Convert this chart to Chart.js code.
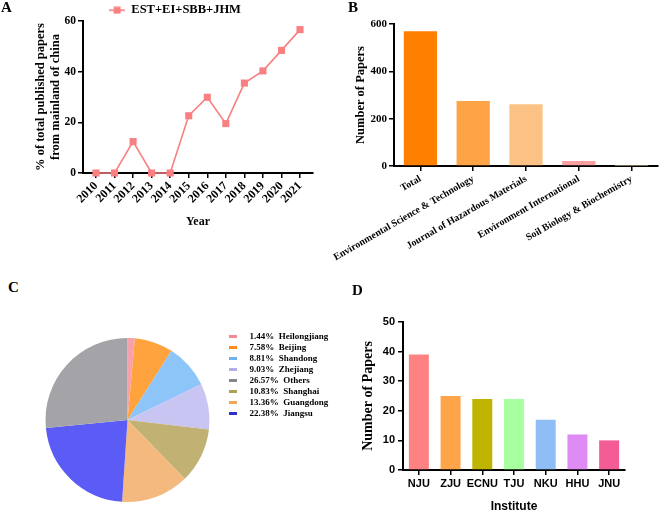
<!DOCTYPE html>
<html><head><meta charset="utf-8">
<script src="https://cdn.jsdelivr.net/npm/chart.js@4"></script>
<style>
html,body{margin:0;padding:0;background:#fff;overflow:hidden;width:666px;height:513px}
#wrap{position:relative;width:666px;height:513px}
canvas{position:absolute}
.lbl{position:absolute;font:bold 15px 'Liberation Serif','Times New Roman',serif;color:#000;line-height:1}
</style></head><body>
<div id="wrap">
<canvas id="cA" width="333" height="235" style="left:0;top:0;width:333px;height:235px"></canvas>
<canvas id="cB" width="333" height="270" style="left:333px;top:0;width:333px;height:270px"></canvas>
<canvas id="cD" width="333" height="224" style="left:333px;top:290px;width:333px;height:224px"></canvas>
<canvas id="cC" width="298" height="180" style="left:36px;top:330px;width:298px;height:180px"></canvas>
<div class="lbl" style="left:1px;top:0">A</div>
<div class="lbl" style="left:348px;top:0">B</div>
<div class="lbl" style="left:8px;top:280px">C</div>
<div class="lbl" style="left:352px;top:283px">D</div>
</div>
<script>
// ---- data ----
const years = [2010, 2011, 2012, 2013, 2014, 2015, 2016, 2017, 2018, 2019, 2020, 2021];
const pctChina = [0, 0, 12.4, 0, 0, 22.6, 29.9, 19.5, 35.5, 40.3, 48.4, 56.6];
const seriesA = 'EST+EI+SBB+JHM';

const journals = ['Total', 'Environmental Science & Technology', 'Journal of Hazardous Materials', 'Environment International', 'Soil Biology & Biochemistry'];
const journalPapers = [569, 275, 261, 21, 1];

const provinces = ['Heilongjiang', 'Beijing', 'Shandong', 'Zhejiang', 'Shanghai', 'Guangdong', 'Jiangsu', 'Others'];
const provincePct = [1.44, 7.58, 8.81, 9.03, 10.83, 13.36, 22.38, 26.57];
const legendOrder = ['Heilongjiang', 'Beijing', 'Shandong', 'Zhejiang', 'Others', 'Shanghai', 'Guangdong', 'Jiangsu'];

const institutes = ['NJU', 'ZJU', 'ECNU', 'TJU', 'NKU', 'HHU', 'JNU'];
const institutePapers = [39, 25, 24, 24, 17, 12, 10];

// ---- styles ----
const serif = "'Liberation Serif', 'Times New Roman', serif";
const sans = "'Liberation Sans', Arial, sans-serif";
Chart.defaults.color = '#000';
Chart.defaults.font.family = serif;
Chart.defaults.font.weight = 'bold';

const pink = '#F97F80';
const journalColors = ['#FF8000', '#FFA347', '#FCC285', '#F8A0A0', '#E8D0A0'];
// province order: Heilongjiang, Beijing, Shandong, Zhejiang, Shanghai, Guangdong, Jiangsu, Others
const provinceColors = ['#F7A1AA', '#FFA33F', '#8EC5F8', '#C9C5F2', '#C1B274', '#F4B97F', '#5B5BF6', '#A3A3A8'];
const provinceMarkColors = ['#F48A95', '#FF8A1E', '#6FB0F0', '#B2AEEA', '#ABA058', '#F2A858', '#3030C8', '#85858E'];
const instituteColors = ['#FF8282', '#FFA448', '#BFB400', '#A8FFA0', '#8FBEF6', '#DE8CF4', '#F45C96'];

const axisGrid = {drawOnChartArea: false, drawTicks: true, tickLength: 5, color: '#000', lineWidth: 1.5};
const axisBorder = {color: '#000', width: 2};

// legend icon for A: line with square
const icon = document.createElement('canvas');
icon.width = 16; icon.height = 8;
const ic = icon.getContext('2d');
ic.strokeStyle = pink; ic.lineWidth = 1.6;
ic.beginPath(); ic.moveTo(0, 4); ic.lineTo(16, 4); ic.stroke();
ic.fillStyle = pink; ic.fillRect(4.5, 0.5, 7, 7);

// legend marks for C: short thick dashes
function dash(color) {
  const c = document.createElement('canvas');
  c.width = 8; c.height = 3;
  const g = c.getContext('2d');
  g.fillStyle = color; g.fillRect(0, 0, 8, 3);
  return c;
}

// ---- A ----
new Chart(document.getElementById('cA'), {
  type: 'line',
  data: {datasets: [{
    label: seriesA,
    data: years.map((y, i) => ({x: y, y: pctChina[i]})),
    borderColor: pink, backgroundColor: pink, borderWidth: 1.6,
    pointStyle: 'rect', pointRadius: 5, pointBackgroundColor: pink, pointBorderWidth: 0,
    clip: false, tension: 0
  }]},
  options: {
    responsive: false, animation: false,
    layout: {padding: {left: 37, right: 20, top: 0, bottom: 0}},
    plugins: {
      legend: {position: 'top', maxHeight: 21, labels: {usePointStyle: true, pointStyle: icon, pointStyleWidth: 16, font: {size: 12.5, family: serif, weight: 'bold'}, padding: 4, color: '#000'}},
      tooltip: {enabled: false}
    },
    scales: {
      x: {
        type: 'linear', min: 2009.3, max: 2021.7,
        afterBuildTicks: (ax) => { ax.ticks = years.map(v => ({value: v})); },
        ticks: {callback: v => String(v), minRotation: 45, maxRotation: 45, autoSkip: false, font: {size: 12}, padding: 1},
        grid: axisGrid, border: axisBorder,
        title: {display: true, text: 'Year', font: {size: 12}, padding: {top: 2, bottom: 6}},
        afterFit: (s) => { s.height = 62; }
      },
      y: {
        min: 0, max: 60,
        ticks: {stepSize: 20, font: {size: 11.5}, padding: 2},
        grid: axisGrid, border: axisBorder,
        title: {display: true, text: ['% of total published papers', 'from mainland of china'], font: {size: 12.5}, padding: {top: -4, bottom: 0}},
        afterFit: (s) => { s.width = 46; }
      }
    }
  }
});

// ---- B ----
new Chart(document.getElementById('cB'), {
  type: 'bar',
  data: {labels: journals, datasets: [{data: journalPapers, backgroundColor: journalColors, categoryPercentage: 1, barPercentage: 0.63}]},
  options: {
    responsive: false, animation: false,
    layout: {padding: {left: 0, right: 8, top: 24, bottom: 0}},
    plugins: {legend: {display: false}, tooltip: {enabled: false}},
    scales: {
      x: {
        offset: true,
        ticks: {minRotation: 30, maxRotation: 30, autoSkip: false, font: {size: 10}, padding: 2},
        grid: Object.assign({offset: false}, axisGrid), border: axisBorder,
        afterFit: (s) => { s.height = 104; }
      },
      y: {
        min: 0, max: 600,
        ticks: {stepSize: 200, font: {size: 11}, padding: 2},
        grid: axisGrid, border: axisBorder,
        title: {display: true, text: 'Number of Papers', font: {size: 12.5}, padding: {top: 20, bottom: 0}},
        afterFit: (s) => { s.width = 61; }
      }
    }
  }
});

// ---- C ----
const pieGen = Chart.overrides.pie.plugins.legend.labels.generateLabels;
new Chart(document.getElementById('cC'), {
  type: 'pie',
  data: {labels: provinces.map((p, i) => provincePct[i].toFixed(2) + '%  ' + p),
         datasets: [{data: provincePct, backgroundColor: provinceColors, borderWidth: 0, radius: 82}]},
  options: {
    responsive: false, animation: false,
    layout: {padding: 0},
    plugins: {
      tooltip: {enabled: false},
      legend: {
        position: 'right', align: 'start', maxWidth: 115,
        labels: {
          usePointStyle: true, pointStyleWidth: 24, boxHeight: 9, padding: 2, color: '#000',
          font: {size: 9, family: serif, weight: 'bold'},
          generateLabels: (chart) => pieGen(chart).map(it => Object.assign(it, {pointStyle: dash(provinceMarkColors[it.index])})),
          sort: (a, b) => legendOrder.indexOf(provinces[a.index]) - legendOrder.indexOf(provinces[b.index])
        }
      }
    }
  }
});

// ---- D ----
new Chart(document.getElementById('cD'), {
  type: 'bar',
  data: {labels: institutes, datasets: [{data: institutePapers, backgroundColor: instituteColors, categoryPercentage: 1, barPercentage: 0.63}]},
  options: {
    responsive: false, animation: false,
    layout: {padding: {left: 0, right: 41, top: 32, bottom: 0}},
    plugins: {legend: {display: false}, tooltip: {enabled: false}},
    scales: {
      x: {
        offset: true,
        ticks: {font: {size: 11, family: sans}, padding: 2.5, autoSkip: false, maxRotation: 0},
        grid: Object.assign({offset: false}, axisGrid), border: axisBorder,
        title: {display: true, text: 'Institute', font: {size: 12, family: sans}, padding: {top: 0, bottom: 0}},
        afterFit: (s) => { s.height = 44; }
      },
      y: {
        min: 0, max: 50,
        ticks: {stepSize: 10, font: {size: 11, family: sans}, padding: 3},
        grid: axisGrid, border: axisBorder,
        title: {display: true, text: 'Number of Papers', font: {size: 14}, padding: {top: 26.6, bottom: 0}},
        afterFit: (s) => { s.width = 70; }
      }
    }
  }
});
</script>
</body></html>
